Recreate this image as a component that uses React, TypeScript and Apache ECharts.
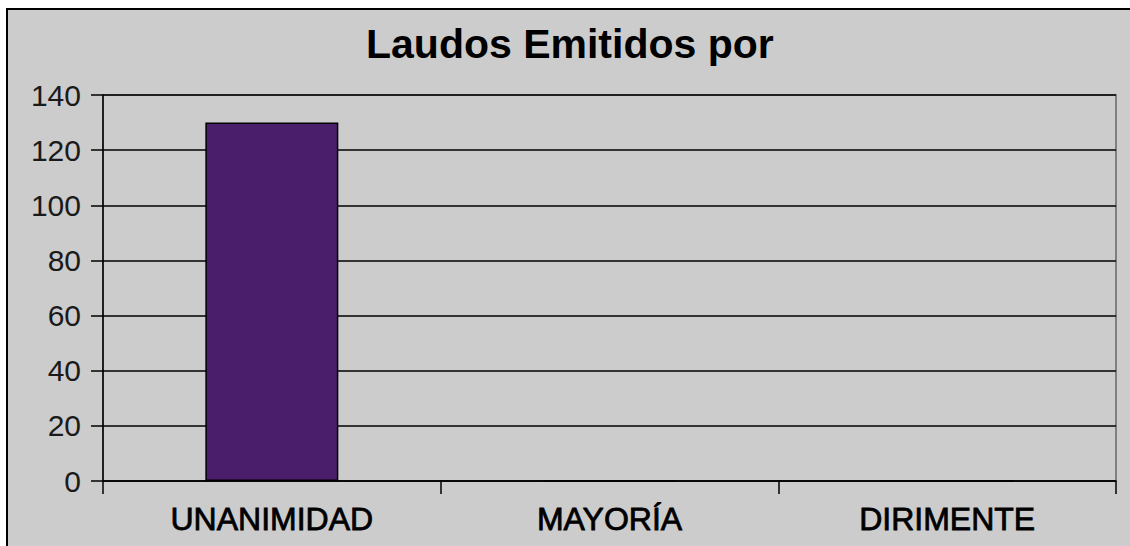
import React, { useEffect, useRef } from "react";
import * as echarts from "echarts";

const titleText = "Laudos Emitidos por";
const categories = ["UNANIMIDAD", "MAYORÍA", "DIRIMENTE"];
const values = [130, 0, 0];
const yMin = 0;
const yMax = 140;
const yStep = 20;

const FONT = "'Liberation Sans', Arial, sans-serif";

export default function App() {
  const ref = useRef<HTMLDivElement>(null);
  useEffect(() => {
    if (!ref.current) return;
    const chart = echarts.init(ref.current, undefined, { renderer: "svg" });
    chart.setOption({
      animation: false,
      backgroundColor: "#ffffff",
      graphic: [
        {
          type: "rect",
          z: -10,
          shape: { x: 7, y: 9, width: 1123, height: 537 },
          style: { fill: "#cccccc" },
          silent: true,
        },
        {
          type: "polyline",
          z: -9,
          shape: { points: [[7, 546], [7, 9], [1130, 9]] },
          style: { stroke: "#000000", lineWidth: 2, fill: "none" },
          silent: true,
        },
      ],
      title: {
        text: titleText,
        left: 366,
        top: 23,
        padding: 0,
        textStyle: {
          fontFamily: FONT,
          fontSize: 41,
          fontWeight: "bold",
          color: "#000000",
        },
      },
      grid: {
        left: 103,
        top: 95,
        right: 14,
        bottom: 65,
        show: true,
        backgroundColor: "transparent",
        borderColor: "#808080",
        borderWidth: 2,
      },
      xAxis: {
        type: "category",
        data: categories,
        boundaryGap: true,
        axisLine: { show: true, lineStyle: { color: "#000000", width: 1.5 } },
        axisTick: {
          show: true,
          alignWithLabel: false,
          length: 13,
          lineStyle: { color: "#000000", width: 1.5 },
        },
        axisLabel: {
          margin: 22,
          fontFamily: FONT,
          fontSize: 32,
          color: "#000000",
          textBorderColor: "#000000",
          textBorderWidth: 0.8,
        },
        splitLine: { show: false },
      },
      yAxis: {
        type: "value",
        min: yMin,
        max: yMax,
        interval: yStep,
        axisLine: { show: true, lineStyle: { color: "#000000", width: 1.5 } },
        axisTick: {
          show: true,
          length: 12,
          lineStyle: { color: "#000000", width: 1.5 },
        },
        axisLabel: {
          margin: 22,
          fontFamily: FONT,
          fontSize: 30,
          color: "#1a1a1a",
        },
        splitLine: { show: true, lineStyle: { color: "#000000", width: 1.5 } },
      },
      series: [
        {
          type: "bar",
          data: values,
          barWidth: 133,
          itemStyle: {
            color: "#4b1e6c",
            borderColor: "#000000",
            borderWidth: 1.5,
          },
        },
      ],
    });
    return () => chart.dispose();
  }, []);
  return (
    <div
      ref={ref}
      style={{
        position: "absolute",
        left: 0,
        top: 0,
        width: 1130,
        height: 546,
      }}
    />
  );
}
